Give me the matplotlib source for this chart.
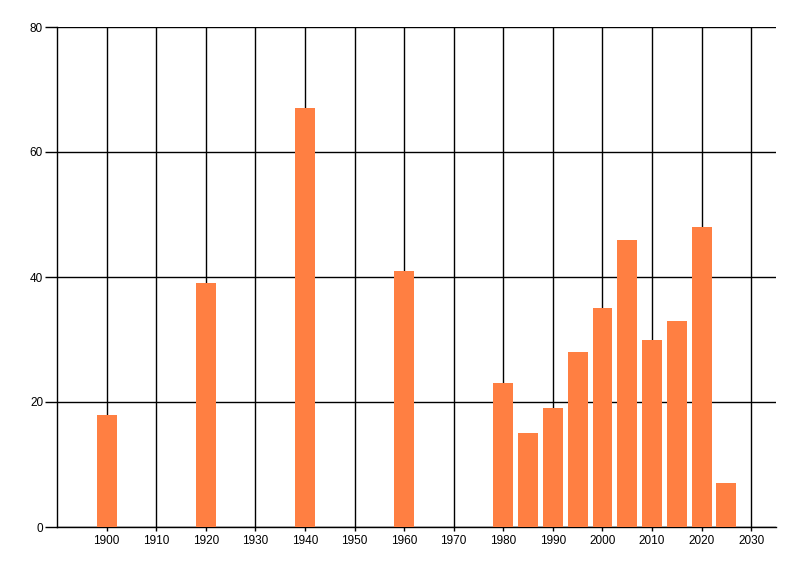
import matplotlib
matplotlib.use("Agg")
import matplotlib.pyplot as plt

years = [1900, 1920, 1940, 1960, 1980, 1985, 1990, 1995, 2000, 2005, 2010, 2015, 2020, 2025]
counts = [18, 39, 67, 41, 23, 15, 19, 28, 35, 46, 30, 33, 48, 7]
xticks = list(range(1900, 2031, 10))
yticks = [0, 20, 40, 60, 80]

plt.rcParams['font.family'] = ['Liberation Sans', 'DejaVu Sans']

fig = plt.figure(figsize=(8, 5.76), dpi=100)
ax = fig.add_axes([57/800, 1 - 527/576, (776 - 57)/800, 500/576])

ax.bar(years, counts, width=4, color='#FF7F42', zorder=3)

ax.set_xlim(1890, 2035)
ax.set_ylim(0, 80)
ax.set_xticks(xticks)
ax.set_yticks(yticks)
ax.grid(True, color='black', linewidth=1)
ax.set_axisbelow(True)
for s in ['top', 'right']:
    ax.spines[s].set_visible(False)
ax.spines['left'].set_linewidth(1)
ax.spines['bottom'].set_linewidth(1)
ax.tick_params(axis='y', length=9, width=1, labelsize=8.5, pad=1)
ax.tick_params(axis='x', length=3, width=1, labelsize=8.5, pad=3)

fig.savefig("out.png", dpi=100)
